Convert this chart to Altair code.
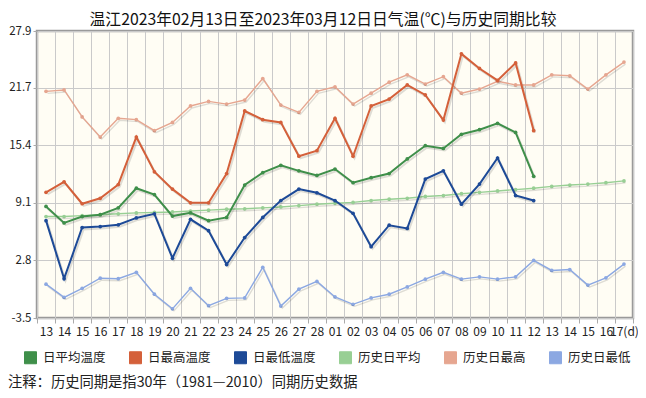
import altair as alt
import pandas as pd

# ---------------- data ----------------
dates = ["02-13", "02-14", "02-15", "02-16", "02-17", "02-18", "02-19", "02-20",
         "02-21", "02-22", "02-23", "02-24", "02-25", "02-26", "02-27", "02-28",
         "03-01", "03-02", "03-03", "03-04", "03-05", "03-06", "03-07", "03-08",
         "03-09", "03-10", "03-11", "03-12", "03-13", "03-14", "03-15", "03-16", "03-17"]

daily_avg = [8.7, 6.9, 7.6, 7.8, 8.55, 10.7, 10.0, 7.65, 8.0, 7.15, 7.5, 11.05, 12.4, 13.2,
             12.6, 12.1, 12.8, 11.3, 11.85, 12.3, 13.9, 15.35, 15.05, 16.6, 17.1, 17.8, 16.8, 12.0]
daily_max = [10.25, 11.4, 9.0, 9.6, 11.1, 16.3, 12.5, 10.6, 9.1, 9.1, 12.3, 19.15, 18.2, 17.9,
             14.2, 14.8, 18.35, 14.2, 19.7, 20.45, 22.0, 20.9, 18.15, 25.4, 23.8, 22.5, 24.4, 17.0]
daily_min = [7.15, 0.8, 6.4, 6.5, 6.7, 7.45, 7.9, 3.05, 7.3, 6.05, 2.35, 5.3, 7.5, 9.35,
             10.6, 10.2, 9.35, 7.95, 4.3, 6.65, 6.3, 11.7, 12.6, 8.95, 11.15, 14.0, 9.9, 9.35]
hist_avg = [7.6, 7.6, 7.7, 7.8, 7.9, 8.0, 8.05, 8.1, 8.2, 8.3, 8.4, 8.45, 8.55, 8.65, 8.8,
            8.95, 9.05, 9.15, 9.35, 9.5, 9.6, 9.8, 9.9, 10.1, 10.25, 10.4, 10.55, 10.7, 10.9,
            11.05, 11.15, 11.3, 11.5]
hist_max = [21.3, 21.45, 18.5, 16.3, 18.35, 18.2, 17.0, 17.9, 19.7, 20.2, 19.9, 20.35, 22.7,
            19.8, 19.0, 21.3, 21.8, 19.9, 21.1, 22.3, 23.1, 22.1, 22.9, 21.1, 21.55, 22.4, 22.0,
            22.0, 23.1, 23.0, 21.55, 23.1, 24.5]
hist_min = [0.2, -1.25, -0.25, 0.85, 0.8, 1.5, -0.9, -2.5, -0.25, -2.15, -1.35, -1.3, 2.05,
            -2.2, -0.35, 0.5, -1.2, -2.0, -1.3, -0.9, -0.1, 0.75, 1.5, 0.75, 1.0, 0.75, 1.0,
            2.8, 1.7, 1.8, 0.1, 0.9, 2.4]

series_names = ["日平均温度", "日最高温度", "日最低温度", "历史日平均", "历史日最高", "历史日最低"]
series_colors = ["#3f8f4a", "#d4603a", "#1d4a97", "#98cf94", "#e6a690", "#8ca8e2"]
y_ticks = [-3.5, 2.8, 9.1, 15.4, 21.7, 27.9]

title_text = "温江2023年02月13日至2023年03月12日日气温(℃)与历史同期比较"
note_text = "注释：历史同期是指30年（1981—2010）同期历史数据"

# ---------------- long table ----------------
rows = []
for name, vals, kind in [
    ("历史日平均", hist_avg, "hist"), ("历史日最高", hist_max, "hist"), ("历史日最低", hist_min, "hist"),
    ("日平均温度", daily_avg, "daily"), ("日最高温度", daily_max, "daily"), ("日最低温度", daily_min, "daily"),
]:
    for d, v in zip(dates, vals):
        rows.append({"date": d, "series": name, "value": v, "kind": kind})
df = pd.DataFrame(rows)

FONT = "Noto Sans CJK SC"

x_enc = alt.X(
    "date:N", sort=dates,
    scale=alt.Scale(type="band", domain=dates, paddingInner=0, paddingOuter=0),
    axis=alt.Axis(
        title=None, labelAngle=0, tickBand="extent", grid=True, gridColor="#cacaca",
        gridWidth=1, domain=False, tickColor="#aaaaaa", tickSize=5, labelFontSize=12,
        labelFont=FONT, labelColor="#222222", labelPadding=3, labelOverlap=False,
        labelExpr="!datum.value ? '' : (datum.value == '03-17' ? '17(d)' : substring(datum.value, 3))",
    ),
)
y_enc = alt.Y(
    "value:Q",
    scale=alt.Scale(domain=[-3.5, 27.9], nice=False, zero=False),
    axis=alt.Axis(
        title=None, values=y_ticks, grid=True, gridColor="#cacaca", gridWidth=1,
        domain=False, tickColor="#aaaaaa", tickSize=4, labelPadding=2, labelFontSize=11.5,
        labelFont=FONT, labelColor="#222222",
        labelExpr="datum.value < 0 ? '-' + format(-datum.value, '.1f') : format(datum.value, '.1f')",
    ),
)
legend = alt.Legend(title=None, orient="none", legendX=-13, legendY=320,
                    direction="horizontal", symbolType="square",
                    symbolSize=144, symbolStrokeColor="#aaaaaa",
                    symbolStrokeWidth=1, symbolOpacity=1,
                    labelFontSize=12.5, labelFont=FONT, labelColor="#222222",
                    columnPadding=21, labelOffset=6)
color_enc = alt.Color("series:N", scale=alt.Scale(domain=series_names, range=series_colors),
                      legend=legend)

base = alt.Chart(df)
hist = base.transform_filter(alt.datum.kind == "hist")
daily = base.transform_filter(alt.datum.kind == "daily")


def shadow(src, w):
    return src.mark_line(strokeWidth=w, color="#000000", opacity=0.13, xOffset=1.5, yOffset=2).encode(
        x=x_enc, y=y_enc, detail="series:N")


def lines(src, w):
    return src.mark_line(strokeWidth=w).encode(x=x_enc, y=y_enc, color=color_enc)


def points(src):
    return src.mark_point(filled=True, size=14, opacity=1).encode(x=x_enc, y=y_enc, color=color_enc)


note = alt.Chart(pd.DataFrame({"t": [note_text]})).mark_text(
    align="left", baseline="middle", fontSize=14.3, font=FONT, color="#222222"
).encode(x=alt.value(-29), y=alt.value(352), text="t:N")

title = alt.Chart(pd.DataFrame({"t": [title_text]})).mark_text(
    align="center", baseline="middle", fontSize=15.8, font=FONT, color="#111111"
).encode(x=alt.value(286), y=alt.value(-11), text="t:N")

chart = alt.layer(
    points(hist), shadow(hist, 1.4), lines(hist, 1.4),
    shadow(daily, 2), lines(daily, 2), points(daily),
    note, title,
).properties(
    width=596, height=287,
    autosize=alt.AutoSizeParams(type="none"),
    padding={"left": 29, "top": 23, "right": 5, "bottom": 72},
).configure_view(
    fill="#fffdf4", stroke="#9a9a9a", strokeWidth=2.5,
)

chart.save("out.html", embed_options={"renderer": "svg", "actions": False})
